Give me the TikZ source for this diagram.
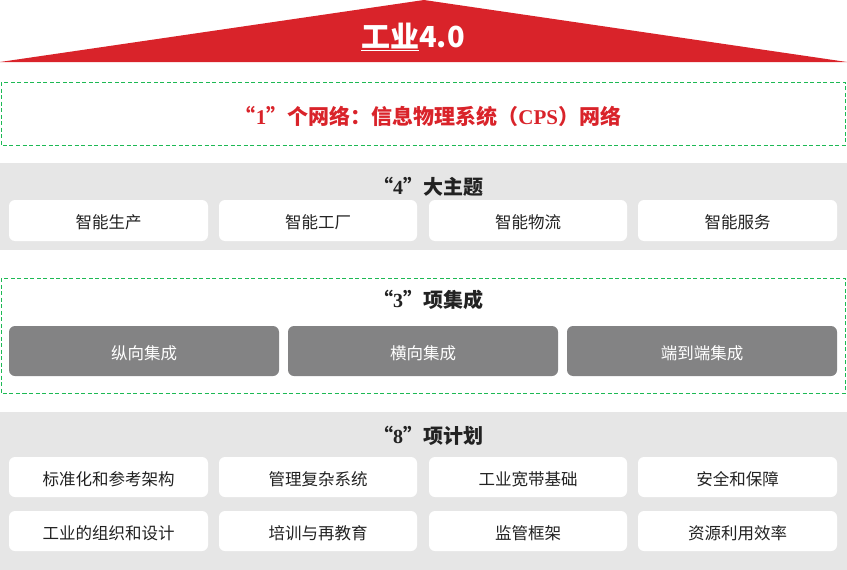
\documentclass[tikz,border=0pt]{standalone}
\usepackage{fontspec}
\setmainfont{Noto Sans CJK SC}
\newfontfamily\serifb{Liberation Serif}[BoldFont={Liberation Serif Bold}]
\newcommand{\sq}[1]{{\serifb\bfseries #1}}
\definecolor{redc}{HTML}{D9232A}
\definecolor{greenc}{HTML}{1DB954}
\definecolor{bandc}{HTML}{E6E6E6}
\definecolor{grayc}{HTML}{838384}
\definecolor{textc}{HTML}{222222}
\tikzset{
  dashbox/.style={draw=greenc, line width=1pt, dash pattern=on 4pt off 2.5pt},
  whitebox/.style={fill=white, rounded corners=6pt, draw=none},
  graybox/.style={fill=grayc, rounded corners=6pt, draw=none},
  boxtext/.style={font=\fontsize{16.5}{19}\selectfont, text=textc},
  sectitle/.style={font=\fontsize{20}{24}\selectfont\bfseries, text=textc},
}
\begin{document}
\begin{tikzpicture}[x=1pt,y=-1pt]
\useasboundingbox (0,0) rectangle (847,570);
% roof
\fill[redc] (0,62) -- (424,0) -- (847,62) -- cycle;
\node[font=\fontsize{29}{32}\selectfont\bfseries, text=white, inner sep=0pt] (title) at (413,37) {\underline{工业}4.0};
% 1 network
\draw[dashbox] (1,82) rectangle (845,145);
\node[font=\fontsize{21}{24}\selectfont\bfseries, text=redc] (net) at (428,116) {“\sq{1}”个网络：信息物理系统（\sq{CPS}）网络};
% 4 themes
\fill[bandc] (0,163) rectangle (847,250);
\node[sectitle] (t4) at (428,187) {“\sq{4}”大主题};
\foreach \xa/\xb/\t [count=\i] in {9/208/智能生产, 219/417/智能工厂, 429/627/智能物流, 638/837/智能服务}{
  \draw[whitebox] (\xa,200) rectangle (\xb,241);
  \node[boxtext] (th\i) at ({(\xa+\xb)/2},222.5) {\t};
}
% 3 integrations
\draw[dashbox] (1,278) rectangle (845,393);
\node[sectitle] (t3) at (428,300) {“\sq{3}”项集成};
\foreach \xa/\xb/\t [count=\i] in {9/279/纵向集成, 288/558/横向集成, 567/837/端到端集成}{
  \draw[graybox] (\xa,326) rectangle (\xb,376);
  \node[boxtext, text=white] (in\i) at ({(\xa+\xb)/2},353.5) {\t};
}
% 8 plans
\fill[bandc] (0,412) rectangle (847,570);
\node[sectitle] (t8) at (428,436) {“\sq{8}”项计划};
\foreach \xa/\xb/\t [count=\i] in {9/208/标准化和参考架构, 219/417/管理复杂系统, 429/627/工业宽带基础, 638/837/安全和保障}{
  \draw[whitebox] (\xa,457) rectangle (\xb,497);
  \node[boxtext] (pa\i) at ({(\xa+\xb)/2},479.5) {\t};
}
\foreach \xa/\xb/\t [count=\i] in {9/208/工业的组织和设计, 219/417/培训与再教育, 429/627/监管框架, 638/837/资源利用效率}{
  \draw[whitebox] (\xa,511) rectangle (\xb,551);
  \node[boxtext] (pb\i) at ({(\xa+\xb)/2},533.5) {\t};
}
\end{tikzpicture}
\end{document}
